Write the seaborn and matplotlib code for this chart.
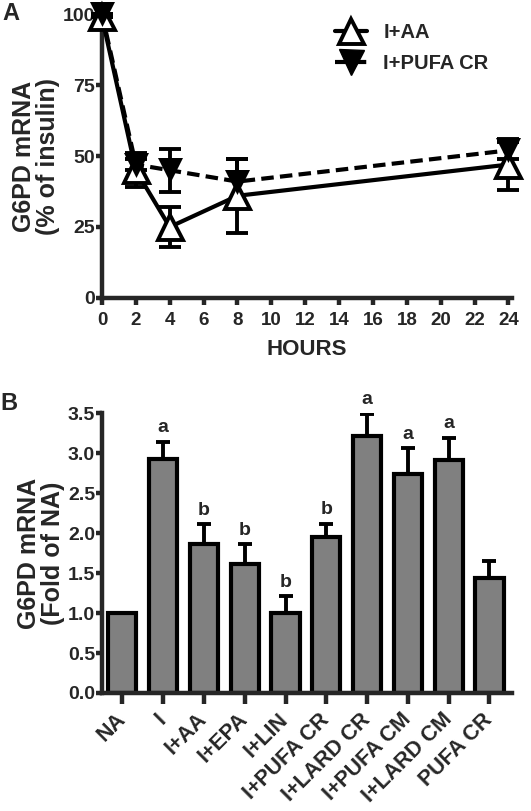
import numpy as np
import pandas as pd
import matplotlib
matplotlib.use("Agg")
import matplotlib.pyplot as plt
import seaborn as sns
from matplotlib.lines import Line2D

# panel A data
hours = [0, 2, 4, 8, 24]
aa_mean = [99, 45, 25, 36, 47]
aa_err = [0, 6, 7, 13, 9]
pufa_mean = [100, 47, 45, 41, 52]
pufa_err = [0, 2, 7.5, 8, 3]

# panel B data
groups = ["NA", "I", "I+AA", "I+EPA", "I+LIN", "I+PUFA CR", "I+LARD CR",
          "I+PUFA CM", "I+LARD CM", "PUFA CR"]
fold = [1.0, 2.93, 1.87, 1.61, 1.0, 1.95, 3.21, 2.74, 2.91, 1.44]
fold_err = [0.0, 0.21, 0.24, 0.25, 0.21, 0.17, 0.28, 0.32, 0.28, 0.21]
letters = ["", "a", "b", "b", "b", "b", "a", "a", "a", ""]

sns.set_style("ticks")
plt.rcParams['font.family'] = ['Liberation Sans', 'DejaVu Sans']
plt.rcParams['font.weight'] = 'bold'
plt.rcParams['axes.linewidth'] = 3.2
plt.rcParams['xtick.major.width'] = 3.2
plt.rcParams['ytick.major.width'] = 3.2
plt.rcParams['xtick.major.size'] = 5
plt.rcParams['ytick.major.size'] = 4
plt.rcParams['xtick.labelsize'] = 13.5
plt.rcParams['ytick.labelsize'] = 14

fig = plt.figure(figsize=(5.31, 8.11), dpi=100)
dash = (0, (3, 1.5))

# ---- panel A ----
ax1 = fig.add_axes([0.192, 0.6326, 0.772, 0.350])
dfa = pd.DataFrame({"h": hours, "aa": aa_mean, "pufa": pufa_mean})
ax1.errorbar(hours, aa_mean, yerr=aa_err, fmt='none', ecolor='black',
             elinewidth=2.8, capsize=8, capthick=2.8, clip_on=False, zorder=2)
ax1.errorbar(hours, pufa_mean, yerr=pufa_err, fmt='none', ecolor='black',
             elinewidth=2.8, capsize=8, capthick=2.8, clip_on=False, zorder=2)
sns.lineplot(data=dfa, x="h", y="pufa", ax=ax1, color='black', lw=3,
             linestyle=dash, clip_on=False, zorder=2.5)
sns.lineplot(data=dfa, x="h", y="aa", ax=ax1, color='black', lw=3,
             marker='^', markersize=18, markerfacecolor='white',
             markeredgecolor='black', markeredgewidth=2.8, clip_on=False, zorder=3)
sns.scatterplot(data=dfa, x="h", y="pufa", ax=ax1, color='black', marker='v',
                s=18 ** 2, edgecolor='black', linewidth=0, clip_on=False, zorder=4)
ax1.set_xlim(0, 24.2)
ax1.set_ylim(0, 100)
ax1.set_xticks(range(0, 25, 2))
ax1.set_yticks([0, 25, 50, 75, 100])
ax1.set_xlabel("HOURS", fontsize=16, fontweight='bold', labelpad=7)
ax1.set_ylabel("G6PD mRNA\n(% of insulin)", fontsize=18, fontweight='bold',
               labelpad=2, linespacing=1.0)
ax1.tick_params(axis='x', pad=5)
ax1.tick_params(axis='y', pad=1)
sns.despine(ax=ax1)
handles = [
    Line2D([], [], color='black', lw=3, marker='^', markersize=18,
           markerfacecolor='white', markeredgewidth=2.8),
    Line2D([], [], color='black', lw=3, linestyle=dash, marker='v',
           markersize=18, markerfacecolor='black'),
]
ax1.legend(handles, ["I+AA", "I+PUFA CR"], loc='upper left',
           bbox_to_anchor=(0.568, 0.97), frameon=False, handlelength=1.6,
           prop={'weight': 'bold', 'size': 14.5}, labelspacing=0.6,
           handletextpad=0.8, borderpad=0, borderaxespad=0)
fig.text(0.005, 0.997, "A", fontsize=17, fontweight='bold', va='top')

# ---- panel B ----
ax2 = fig.add_axes([0.192, 0.1455, 0.772, 0.345])
dfb = pd.DataFrame({"group": groups, "fold": fold})
sns.barplot(data=dfb, x="group", y="fold", ax=ax2, color='#808080',
            saturation=1, edgecolor='black', linewidth=3, width=0.69,
            errorbar=None)
x = np.arange(len(groups))
ax2.errorbar(x, fold, yerr=[np.zeros(len(fold)), fold_err], fmt='none',
             ecolor='black', elinewidth=2.8, capsize=5, capthick=2.8, zorder=1)
for xi, f, e, l in zip(x, fold, fold_err, letters):
    if l:
        ax2.text(xi, f + e + 0.07, l, ha='center', va='bottom',
                 fontsize=14, fontweight='bold')
ax2.set_xlim(-0.5, 9.55)
ax2.set_ylim(0, 3.5)
ax2.set_yticks(np.arange(0, 3.51, 0.5))
ax2.set_yticklabels([f"{v:.1f}" for v in np.arange(0, 3.51, 0.5)])
ax2.set_xlabel("")
ax2.set_ylabel("G6PD mRNA\n(Fold of NA)", fontsize=18, fontweight='bold',
               labelpad=2, linespacing=1.0)
ax2.tick_params(axis='x', length=8, pad=9)
ax2.tick_params(axis='y', pad=1)
plt.setp(ax2.get_xticklabels(), rotation=45, ha='right', va='center',
         rotation_mode='anchor', fontsize=15.5, fontweight='bold')
sns.despine(ax=ax2)
fig.text(0.0, 0.517, "B", fontsize=17, fontweight='bold', va='top')

fig.savefig("out.png", dpi=100)
